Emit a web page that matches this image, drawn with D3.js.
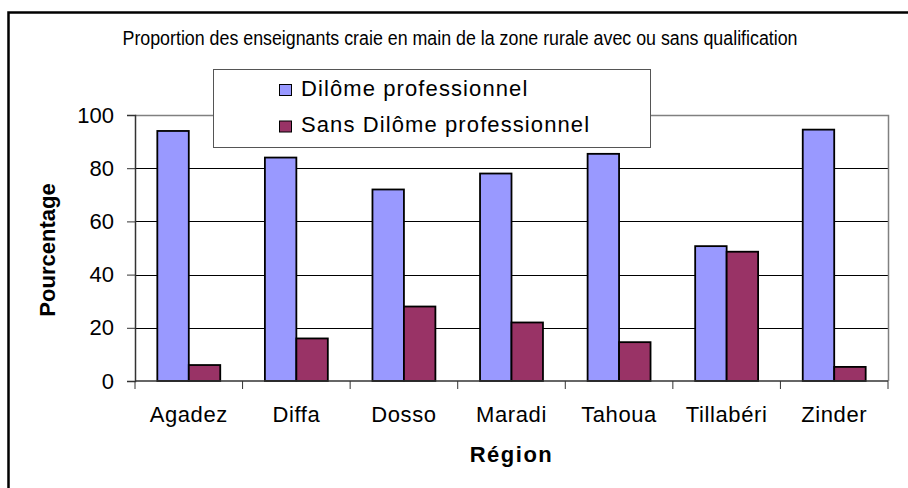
<!DOCTYPE html>
<html>
<head>
<meta charset="utf-8">
<script src="https://cdn.jsdelivr.net/npm/d3@7"></script>
<style>
  body { margin: 0; background: #fff; }
  svg { display: block; font-family: "Liberation Sans", Arial, sans-serif; }
</style>
</head>
<body>
<div id="chart"></div>
<script>
const regions = ["Agadez", "Diffa", "Dosso", "Maradi", "Tahoua", "Tillabéri", "Zinder"];
const avecDiplome = [94, 84, 72, 78, 85.4, 50.7, 94.5];
const sansDiplome = [6, 16, 28, 22, 14.6, 48.6, 5.3];
const seriesNames = ["Dilôme professionnel", "Sans Dilôme professionnel"];
const seriesColors = ["#9999ff", "#993366"];
const yTicks = [0, 20, 40, 60, 80, 100];

const w = 908, h = 488;
const svg = d3.select("#chart").append("svg")
    .attr("width", w)
    .attr("height", h);

// outer frame (runs off the right and bottom of the picture)
svg.append("rect")
    .attr("x", 8.5).attr("y", 12.5)
    .attr("width", 1000).attr("height", 600)
    .attr("fill", "none")
    .attr("stroke", "#000")
    .attr("stroke-width", 2.5);

// scales
const plotL = 135, plotR = 888, plotT = 115, plotB = 381;
const x = d3.scaleBand()
    .domain(regions)
    .range([plotL, plotR])
    .paddingInner(0.415)
    .paddingOuter(0.2075);
const xSub = d3.scaleBand()
    .domain([0, 1])
    .range([0, x.bandwidth()]);
const y = d3.scaleLinear()
    .domain([0, 100])
    .range([plotB, plotT]);

// grid lines
svg.append("g")
    .selectAll("line")
    .data(yTicks.slice(1, -1))
    .enter()
    .append("line")
    .attr("x1", plotL).attr("x2", plotR)
    .attr("y1", d => Math.round(y(d)) + 0.5)
    .attr("y2", d => Math.round(y(d)) + 0.5)
    .attr("stroke", "#000");

// plot border (top / right)
svg.append("path")
    .attr("d", `M${plotL},${plotT + 0.5}H${plotR + 0.5}V${plotB}`)
    .attr("fill", "none")
    .attr("stroke", "#808080")
    .attr("stroke-width", 1.5);

// bars
const rows = regions.map((r, i) => ({region: r, values: [avecDiplome[i], sansDiplome[i]]}));
const groups = svg.append("g")
    .selectAll("g")
    .data(rows)
    .enter()
    .append("g")
    .attr("transform", d => `translate(${x(d.region)},0)`);
groups.selectAll("rect")
    .data(d => d.values.map((v, k) => ({k, v})))
    .enter()
    .append("rect")
    .attr("x", d => xSub(d.k))
    .attr("y", d => y(d.v))
    .attr("width", xSub.bandwidth())
    .attr("height", d => y(0) - y(d.v))
    .attr("fill", d => seriesColors[d.k])
    .attr("stroke", "#000")
    .attr("stroke-width", 1.8);

// y axis
const yAxis = d3.axisLeft(y)
    .tickValues(yTicks)
    .tickSize(8)
    .tickPadding(13);
const gy = svg.append("g")
    .attr("transform", `translate(${plotL},0)`)
    .call(yAxis);
gy.select(".domain").attr("stroke", "#333").attr("stroke-width", 1.5);
gy.selectAll(".tick line").attr("stroke", "#333");
gy.selectAll("text")
    .attr("font-size", "22px")
    .attr("font-family", "Liberation Sans, Arial, sans-serif")
    .attr("fill", "#000");

// x axis: ticks between categories
const xBounds = d3.range(regions.length + 1).map(i => plotL + i * x.step());
svg.append("line")
    .attr("x1", plotL).attr("x2", plotR)
    .attr("y1", plotB).attr("y2", plotB)
    .attr("stroke", "#333").attr("stroke-width", 1.5);
svg.append("g")
    .selectAll("line")
    .data(xBounds)
    .enter()
    .append("line")
    .attr("x1", d => d).attr("x2", d => d)
    .attr("y1", plotB).attr("y2", plotB + 8)
    .attr("stroke", "#333");
svg.append("g")
    .selectAll("text")
    .data(regions)
    .enter()
    .append("text")
    .attr("x", d => x(d) + x.bandwidth() / 2)
    .attr("y", 421.5)
    .attr("text-anchor", "middle")
    .attr("font-size", "22px")
    .attr("letter-spacing", "0.6px")
    .text(d => d);

// axis titles
svg.append("text")
    .attr("x", (plotL + plotR) / 2)
    .attr("y", 462)
    .attr("text-anchor", "middle")
    .attr("font-size", "22px")
    .attr("font-weight", "bold")
    .attr("letter-spacing", "1.5px")
    .text("Région");
svg.append("text")
    .attr("transform", "translate(55,250) rotate(-90)")
    .attr("text-anchor", "middle")
    .attr("font-size", "22px")
    .attr("font-weight", "bold")
    .text("Pourcentage");

// title
svg.append("text")
    .attr("x", 460)
    .attr("y", 45)
    .attr("text-anchor", "middle")
    .attr("font-size", "20px")
    .attr("textLength", 675)
    .attr("lengthAdjust", "spacingAndGlyphs")
    .text("Proportion des enseignants craie en main de la zone rurale avec ou sans qualification");

// legend
const legend = svg.append("g");
legend.append("rect")
    .attr("x", 213.5).attr("y", 69.5)
    .attr("width", 437).attr("height", 78)
    .attr("fill", "#fff")
    .attr("stroke", "#555");
const items = legend.selectAll("g.item")
    .data(seriesNames)
    .enter()
    .append("g")
    .attr("class", "item")
    .attr("transform", (d, i) => `translate(0,${i * 36.5})`);
items.append("rect")
    .attr("x", 279.5).attr("y", 84.5)
    .attr("width", 12).attr("height", 11)
    .attr("fill", (d, i) => seriesColors[i])
    .attr("stroke", "#000");
items.append("text")
    .attr("x", 301)
    .attr("y", 95.5)
    .attr("font-size", "22px")
    .attr("letter-spacing", "1.1px")
    .text(d => d);
</script>
</body>
</html>
